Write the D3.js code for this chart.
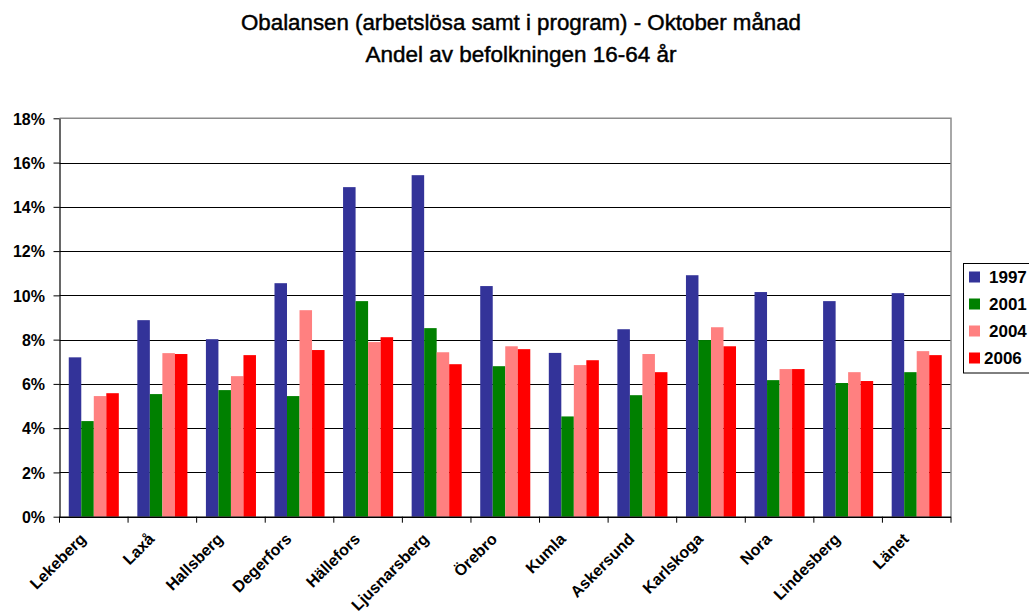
<!DOCTYPE html>
<html><head><meta charset="utf-8">
<script src="https://cdn.jsdelivr.net/npm/d3@7"></script>
<style>body{margin:0;background:#fff} svg{display:block}</style>
</head><body>
<svg id="c" width="1029" height="613"></svg>
<script>
const titleLines = ["Obalansen (arbetslösa samt i program) - Oktober månad", "Andel av befolkningen 16-64 år"];
const categories = ["Lekeberg","Laxå","Hallsberg","Degerfors","Hällefors","Ljusnarsberg","Örebro","Kumla","Askersund","Karlskoga","Nora","Lindesberg","Länet"];
const years = ["1997","2001","2004","2006"];
const v1997 = [7.2, 8.88, 8.02, 10.55, 14.89, 15.43, 10.42, 7.4, 8.47, 10.91, 10.15, 9.74, 10.1];
const v2001 = [4.32, 5.54, 5.72, 5.45, 9.74, 8.52, 6.8, 4.53, 5.49, 7.98, 6.17, 6.04, 6.53];
const v2004 = [5.45, 7.39, 6.35, 9.33, 7.89, 7.43, 7.7, 6.85, 7.35, 8.56, 6.67, 6.53, 7.48];
const v2006 = [5.58, 7.35, 7.3, 7.53, 8.11, 6.89, 7.57, 7.07, 6.53, 7.7, 6.67, 6.13, 7.3];
const yTicks = [0, 2, 4, 6, 8, 10, 12, 14, 16, 18];
const colors = ["#333399", "#008000", "#FF8080", "#FF0000"];

const series = [v1997, v2001, v2004, v2006];
const svg = d3.select("#c");
const L = 59.5, R = 951, T = 118.3, B = 516.7;

const x0 = d3.scaleBand().domain(categories).range([L, R]).paddingInner(0).paddingOuter(0);
const x1 = d3.scaleBand().domain(years).range([0, x0.bandwidth()]).paddingInner(0).paddingOuter(0.74);
const y = d3.scaleLinear().domain([0, 18]).range([B, T]);

// title
svg.selectAll("text.title").data(titleLines).join("text")
  .attr("class", "title")
  .attr("x", 521).attr("y", (d, i) => 30 + i * 32)
  .attr("text-anchor", "middle")
  .attr("font-family", "'Liberation Sans Narrow', 'Liberation Sans', Arial, sans-serif")
  .attr("font-size", 22)
  .attr("textLength", (d, i) => i === 0 ? 560 : 311)
  .attr("lengthAdjust", "spacingAndGlyphs")
  .attr("fill", "#000").attr("stroke", "#000").attr("stroke-width", 0.45)
  .text(d => d);

// gridlines
svg.append("g").selectAll("line").data(yTicks.filter(t => t > 0 && t < 18)).join("line")
  .attr("x1", L).attr("x2", R)
  .attr("y1", d => Math.round(y(d)) + 0.5).attr("y2", d => Math.round(y(d)) + 0.5)
  .attr("stroke", "#000").attr("stroke-width", 1);

// bars
const g = svg.append("g");
categories.forEach((c, ci) => {
  g.append("g").attr("transform", `translate(${x0(c)},0)`)
    .selectAll("rect").data(years.map((yr, si) => ({yr, v: series[si][ci], si}))).join("rect")
    .attr("x", d => x1(d.yr)).attr("width", x1.bandwidth())
    .attr("y", d => y(d.v)).attr("height", d => B - y(d.v))
    .attr("fill", d => colors[d.si]);
});

// plot border (top, right)
svg.append("path")
  .attr("d", `M${L},${T}H${R}V${B}`)
  .attr("fill", "none").attr("stroke", "#8c8c8c").attr("stroke-width", 1.5);

// y axis
const yAxis = d3.axisLeft(y).tickValues(yTicks).tickSize(6).tickSizeOuter(0).tickFormat(d => d + "%");
const ya = svg.append("g").attr("transform", `translate(${L},0)`).call(yAxis);
ya.select(".domain").attr("stroke", "#000").attr("stroke-width", 1.2);
ya.selectAll(".tick line").attr("stroke", "#000");
ya.selectAll(".tick text")
  .attr("x", -14.5).attr("dy", "0.36em")
  .attr("font-family", "'Liberation Sans', Arial, sans-serif")
  .attr("font-size", 16).attr("font-weight", "bold").attr("fill", "#000");

// x axis (ticks at category boundaries)
const bounds = categories.map(c => x0(c)).concat([R]);
const xa = svg.append("g");
xa.append("line").attr("x1", L).attr("x2", R).attr("y1", B + 0.5).attr("y2", B + 0.5)
  .attr("stroke", "#000").attr("stroke-width", 1.4);
xa.selectAll("line.tk").data(bounds).join("line").attr("class", "tk")
  .attr("x1", d => d).attr("x2", d => d).attr("y1", B).attr("y2", B + 6)
  .attr("stroke", "#000").attr("stroke-width", 1);
xa.selectAll("text").data(categories).join("text")
  .attr("transform", d => `translate(${x0(d) + x0.bandwidth() / 2 - 7},540) rotate(-45)`)
  .attr("text-anchor", "end")
  .attr("font-family", "'Liberation Sans', Arial, sans-serif")
  .attr("font-size", 16).attr("font-weight", "bold").attr("fill", "#000")
  .text(d => d);

// legend
const lg = svg.append("g");
lg.append("rect").attr("x", 963.5).attr("y", 263.5).attr("width", 80).attr("height", 109.5)
  .attr("fill", "#fff").attr("stroke", "#000").attr("stroke-width", 1);
const items = lg.selectAll("g.it").data(years).join("g").attr("class", "it")
  .attr("transform", (d, i) => `translate(0,${277 + i * 27})`);
items.append("rect").attr("x", 969).attr("y", -5.5).attr("width", 11).attr("height", 11)
  .attr("fill", (d, i) => colors[i]);
items.append("text").attr("x", (d, i) => i === 3 ? 984 : 989).attr("y", 0).attr("dy", "0.36em")
  .attr("font-family", "'Liberation Sans', Arial, sans-serif")
  .attr("font-size", 17).attr("font-weight", "bold").attr("fill", "#000")
  .text(d => d);
</script>
</body></html>
